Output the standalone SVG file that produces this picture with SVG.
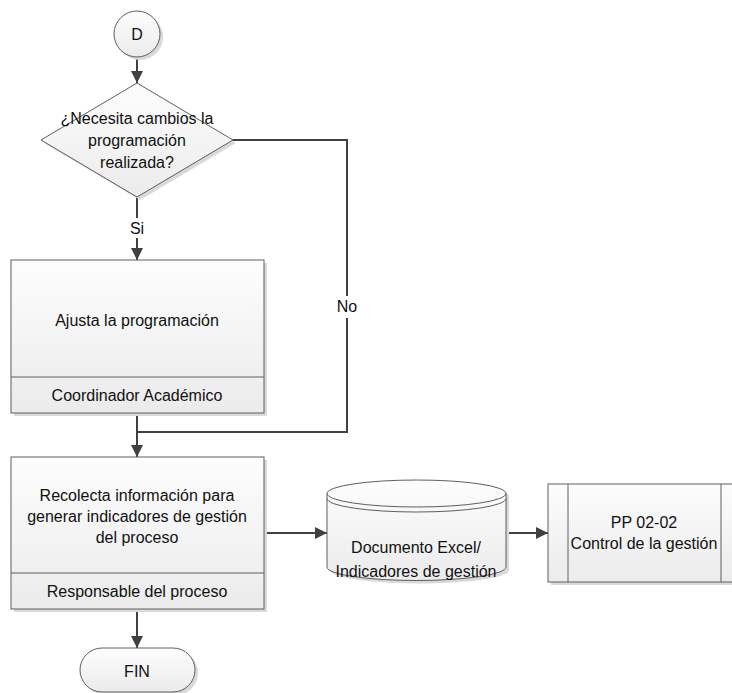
<svg xmlns="http://www.w3.org/2000/svg" width="732" height="693" viewBox="0 0 732 693">
  <style>
    .shape { fill: url(#fillGrad); stroke: #5e5e5e; stroke-width: 1; }
    .shadow { fill: #d9d9d9; stroke: none; }
    .edge { fill: none; stroke: #404040; stroke-width: 2; }
    .label { font-family: "Liberation Sans", Arial, sans-serif; font-size: 16px; fill: #111; text-anchor: middle; dominant-baseline: central; }
    .bg { fill: #ffffff; stroke: none; }
  </style>
  <defs>
    <linearGradient id="fillGrad" x1="0" y1="0" x2="0" y2="1">
      <stop offset="0" stop-color="#fdfdfd"/>
      <stop offset="1" stop-color="#ebebeb"/>
    </linearGradient>
    <marker id="arrow" viewBox="0 0 12 12" refX="12" refY="6" markerWidth="12" markerHeight="12" markerUnits="userSpaceOnUse" orient="auto">
      <path d="M0,0 L12,6 L0,12 z" fill="#404040"/>
    </marker>
  </defs>
  <rect width="732" height="693" fill="#ffffff"/>

  <!-- connectors -->
  <g id="connectors">
    <path class="edge" d="M137,57 V83" marker-end="url(#arrow)"/>
    <path class="edge" d="M137,197 V260" marker-end="url(#arrow)"/>
    <path class="edge" d="M233,140 H347 V432 H137"/>
    <path class="edge" d="M137,413 V457" marker-end="url(#arrow)"/>
    <path class="edge" d="M137,609 V648" marker-end="url(#arrow)"/>
    <path class="edge" d="M264,533 H327" marker-end="url(#arrow)"/>
    <path class="edge" d="M506,533 H548" marker-end="url(#arrow)"/>
    <rect class="bg" x="127" y="218" width="20" height="20"/>
    <text class="label" x="137" y="228">Si</text>
    <rect class="bg" x="334" y="296" width="26" height="22"/>
    <text class="label" x="347" y="306">No</text>
  </g>

  <!-- start connector D -->
  <g id="start-d">
    <circle class="shadow" cx="140" cy="37" r="23"/>
    <circle class="shape" cx="137" cy="34" r="23"/>
    <text class="label" x="137" y="34">D</text>
  </g>

  <!-- decision -->
  <g id="decision">
    <path class="shadow" d="M140,86 L236,143 L140,200 L44,143 z"/>
    <path class="shape" d="M137,83 L233,140 L137,197 L41,140 z"/>
    <text class="label" x="137" y="118">¿Necesita cambios la</text>
    <text class="label" x="137" y="140">programación</text>
    <text class="label" x="137" y="162">realizada?</text>
  </g>

  <!-- task: adjust schedule -->
  <g id="task-ajusta">
    <rect class="shadow" x="14" y="263" width="253" height="153"/>
    <rect class="shape" x="11" y="260" width="253" height="153"/>
    <line x1="11" y1="377" x2="264" y2="377" stroke="#5e5e5e" stroke-width="1"/>
    <text class="label" x="137" y="320">Ajusta la programación</text>
    <text class="label" x="137" y="395">Coordinador Académico</text>
  </g>

  <!-- task: collect information -->
  <g id="task-recolecta">
    <rect class="shadow" x="14" y="460" width="253" height="152"/>
    <rect class="shape" x="11" y="457" width="253" height="152"/>
    <line x1="11" y1="573" x2="264" y2="573" stroke="#5e5e5e" stroke-width="1"/>
    <text class="label" x="137" y="495">Recolecta información para</text>
    <text class="label" x="137" y="516">generar indicadores de gestión</text>
    <text class="label" x="137" y="537">del proceso</text>
    <text class="label" x="137" y="591">Responsable del proceso</text>
  </g>

  <!-- data store -->
  <g id="datastore">
    <path class="shadow" d="M330,496.5 A89.5,13.5 0 0 1 509,496.5 V570 A89.5,13.5 0 0 1 330,570 z"/>
    <path class="shape" d="M327,493.5 A89.5,13.5 0 0 1 506,493.5 V567 A89.5,13.5 0 0 1 327,567 z"/>
    <path fill="none" stroke="#5e5e5e" stroke-width="1" d="M327,493.5 A89.5,13.5 0 0 0 506,493.5"/>
    <path fill="none" stroke="#5e5e5e" stroke-width="1" d="M327,498.5 A89.5,13.5 0 0 0 506,498.5"/>
    <text class="label" x="416" y="547">Documento Excel/</text>
    <text class="label" x="416" y="571">Indicadores de gestión</text>
  </g>

  <!-- predefined process -->
  <g id="subprocess">
    <rect class="shadow" x="551" y="487" width="193" height="98"/>
    <rect class="shape" x="548" y="484" width="193" height="98"/>
    <line x1="568" y1="484" x2="568" y2="582" stroke="#5e5e5e" stroke-width="1"/>
    <line x1="721" y1="484" x2="721" y2="582" stroke="#5e5e5e" stroke-width="1"/>
    <text class="label" x="644" y="522">PP 02-02</text>
    <text class="label" x="644" y="543">Control de la gestión</text>
  </g>

  <!-- end terminator -->
  <g id="end-fin">
    <rect class="shadow" x="83" y="651" width="115" height="44" rx="22"/>
    <rect class="shape" x="80" y="648" width="115" height="44" rx="22"/>
    <text class="label" x="137" y="671">FIN</text>
  </g>
</svg>
